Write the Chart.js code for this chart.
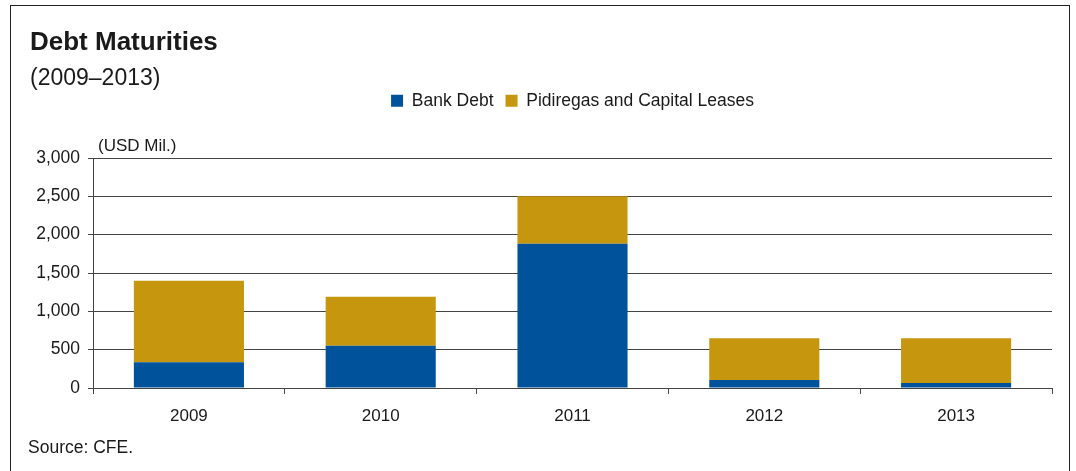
<!DOCTYPE html>
<html>
<head>
<meta charset="utf-8">
<script src="https://cdn.jsdelivr.net/npm/chart.js@4/dist/chart.umd.min.js"></script>
<style>
  body { margin: 0; background: #fff; font-family: "Liberation Sans", Arial, sans-serif; color: #1a1a1a; }
  #wrap { position: relative; width: 1076px; height: 471px; overflow: hidden; }
  #frame { position: absolute; left: 10px; top: 5px; width: 1058px; height: 500px; border: 1px solid #222; }
  canvas { position: absolute; left: 0; top: 0; }
  .txt { position: absolute; line-height: 1; white-space: nowrap; }
  #title { left: 30px; top: 28px; font-size: 26px; font-weight: bold; }
  #subtitle { left: 30px; top: 66px; font-size: 23px; }
  #units { left: 98px; top: 137px; font-size: 17px; }
  #source { left: 28px; top: 439px; font-size: 17.5px; }
</style>
</head>
<body>
<div id="wrap">
  <div id="frame"></div>
  <canvas id="debtChart" width="1076" height="471"></canvas>
  <div class="txt" id="title">Debt Maturities</div>
  <div class="txt" id="subtitle">(2009–2013)</div>
  <div class="txt" id="units">(USD Mil.)</div>
  <div class="txt" id="source">Source: CFE.</div>
</div>
<script>
const years = ['2009', '2010', '2011', '2012', '2013'];
const bankDebt = [335, 550, 1880, 105, 65];
const pidiregas = [1065, 640, 620, 545, 585];
const seriesNames = ['Bank Debt', 'Pidiregas and Capital Leases'];

const axisColor = '#444';
const textColor = '#1a1a1a';

// push the plot down below the legend
const legendSpacer = {
  id: 'legendSpacer',
  beforeInit(chart) {
    const origFit = chart.legend.fit;
    chart.legend.fit = function () {
      origFit.bind(chart.legend)();
      this.height = 78;
    };
  }
};

function initChart() {
  const ctx = document.getElementById('debtChart').getContext('2d');

  new Chart(ctx, {
    type: 'bar',
    data: {
      labels: years,
      datasets: [{
        label: seriesNames[0],
        data: bankDebt,
        backgroundColor: '#00539B',
        borderWidth: 0
      }, {
        label: seriesNames[1],
        data: pidiregas,
        backgroundColor: '#C5960E',
        borderWidth: 0
      }]
    },
    options: {
      responsive: false,
      animation: false,
      devicePixelRatio: 1,
      categoryPercentage: 1,
      barPercentage: 0.574,
      layout: {
        padding: { top: 80, right: 24, bottom: 0, left: 0 }
      },
      plugins: {
        tooltip: { enabled: false },
        legend: {
          position: 'top',
          fullSize: false,
          labels: {
            color: textColor,
            font: { family: 'Liberation Sans', size: 17.5 },
            boxWidth: 12,
            boxHeight: 12,
            padding: 12
          }
        }
      },
      scales: {
        x: {
          stacked: true,
          afterFit(scale) { scale.height = 83; },
          grid: {
            drawOnChartArea: false,
            drawTicks: true,
            tickLength: 6,
            color: axisColor
          },
          border: { display: true, color: axisColor },
          ticks: {
            color: textColor,
            font: { family: 'Liberation Sans', size: 17 },
            padding: 12
          }
        },
        y: {
          stacked: true,
          min: 0,
          max: 3000,
          afterFit(scale) { scale.width = 93; },
          grid: {
            color: axisColor,
            tickLength: 5
          },
          border: { display: true, color: axisColor },
          ticks: {
            stepSize: 500,
            color: textColor,
            font: { family: 'Liberation Sans', size: 17.5 },
            padding: 8,
            callback: v => v.toLocaleString('en-US')
          }
        }
      }
    },
    plugins: [legendSpacer]
  });
}

window.onload = initChart;
</script>
</body>
</html>
